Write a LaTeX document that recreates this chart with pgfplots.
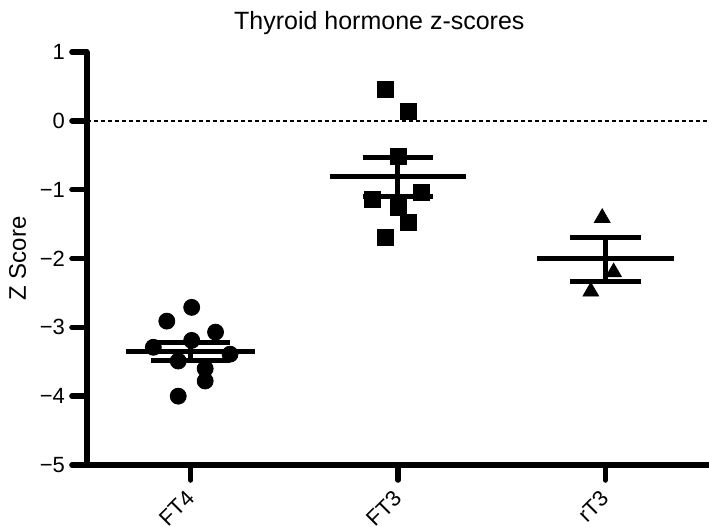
\documentclass[border=0pt]{standalone}
\usepackage{fontspec}
\setmainfont{Liberation Sans}
\usepackage{pgfplots}
\pgfplotsset{compat=1.18}
\begin{document}
\begin{tikzpicture}
\begin{axis}[
  scale only axis,
  width=311pt, height=206.5pt,
  xmin=0.5, xmax=3.5, ymin=-5, ymax=1,
  axis lines=left,
  axis line style={-, line width=2.8pt},
  xtick={1,2,3}, xticklabels={FT4,FT3,rT3},
  ytick={-5,-4,-3,-2,-1,0,1},
  yticklabels={−5,−4,−3,−2,−1,0,1},
  tick style={line width=2.8pt, black, line cap=round},
  major tick length=7.5pt,
  tick align=outside,
  xticklabel style={rotate=45, anchor=north east, inner sep=1pt, xshift=-4pt,
    font=\fontsize{11}{13}\selectfont},
  yticklabel style={font=\fontsize{11}{12}\selectfont},
  ylabel={Z Score},
  ylabel style={font=\fontsize{12}{14}\selectfont},
  title={Thyroid hormone z-scores},
  title style={font=\fontsize{12.5}{14}\selectfont, at={(rel axis cs:0.47,1)}, anchor=base, yshift=5pt},
  clip=false,
  unbounded coords=jump,
]
% zero reference line
\addplot[black, line width=0.8pt, dash pattern=on 2pt off 1.5pt] coordinates {(0.5,0) (3.5,0)};

% FT4
\addplot[only marks, mark=*, mark size=4pt, black] coordinates {
  (1.005,-2.71) (0.885,-2.91) (1.12,-3.07) (1.005,-3.19) (0.82,-3.29)
  (1.19,-3.39) (0.94,-3.49) (1.07,-3.60) (1.07,-3.78) (0.94,-4.00)
};
% FT3
\addplot[only marks, mark=square*, mark size=4pt, black] coordinates {
  (1.94,0.46) (2.05,0.14) (2.00,-0.51) (2.115,-1.04)
  (1.875,-1.14) (2.00,-1.26) (2.05,-1.48) (1.94,-1.70)
};
% rT3
\addplot[only marks, mark=triangle*, mark size=4.5pt, black] coordinates {
  (2.985,-1.41) (3.04,-2.20) (2.93,-2.48)
};

% mean and SEM lines
\addplot[black, line width=2.5pt] coordinates {
  (0.69,-3.35) (1.31,-3.35) (nan,nan)
  (0.81,-3.22) (1.19,-3.22) (nan,nan)
  (0.81,-3.48) (1.19,-3.48) (nan,nan)
  (1.0,-3.22) (1.0,-3.48)
};
\addplot[black, line width=2.5pt] coordinates {
  (1.67,-0.81) (2.33,-0.81) (nan,nan)
  (1.83,-0.54) (2.17,-0.54) (nan,nan)
  (1.83,-1.10) (2.17,-1.10) (nan,nan)
  (2.0,-0.54) (2.0,-1.10)
};
\addplot[black, line width=2.5pt] coordinates {
  (2.67,-2.00) (3.33,-2.00) (nan,nan)
  (2.83,-1.70) (3.17,-1.70) (nan,nan)
  (2.83,-2.33) (3.17,-2.33) (nan,nan)
  (3.0,-1.70) (3.0,-2.33)
};
\end{axis}
\pgfresetboundingbox
\path[use as bounding box] ([xshift=-43.5pt,yshift=-31pt]current axis.south west)
  rectangle ([yshift=26pt]current axis.north east);
\end{tikzpicture}
\end{document}
